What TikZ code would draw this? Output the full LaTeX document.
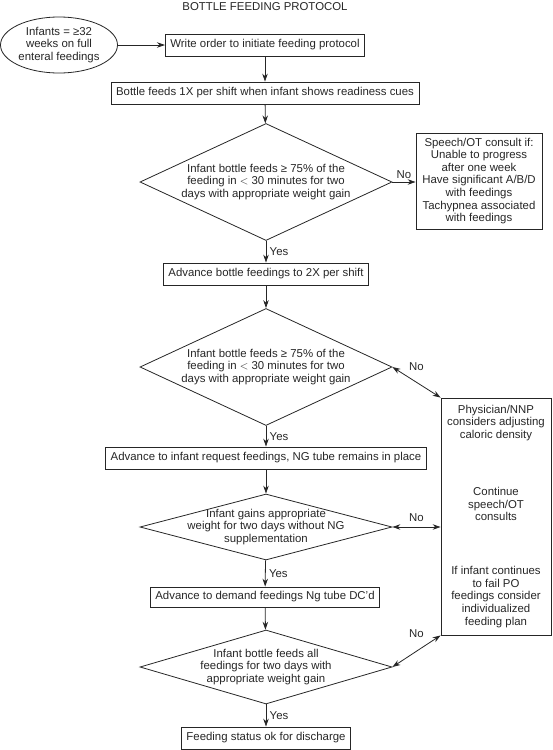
\documentclass[tikz,border=0pt]{standalone}
\usepackage{fontspec}
\setmainfont{Liberation Sans}
\usetikzlibrary{shapes.geometric,arrows.meta}

\begin{document}
\begin{tikzpicture}[x=1pt,y=-1pt,line width=.8pt,color=black!85,
  font=\fontsize{11.4}{12.6}\selectfont,
  box/.style={draw,minimum height=22pt,inner xsep=5pt,inner ysep=0pt},
  dia/.style={draw,diamond,inner sep=-15pt,aspect=3,align=center,minimum width=252pt},
  arr/.style={-{Stealth[length=8pt,width=5.5pt]}},
  darr/.style={{Stealth[length=8pt,width=5.5pt]}-{Stealth[length=8pt,width=5.5pt]}}]
\useasboundingbox (0,0) rectangle (552,750);
\node (T) at (265,7) {BOTTLE FEEDING PROTOCOL};
\node[draw,ellipse,minimum width=117pt,minimum height=56pt,inner sep=0pt,align=center] (S) at (59,45)
  {Infants = ≥32\\weeks on full\\enteral feedings};
\node[box] (B1) at (265,45) {Write order to initiate feeding protocol};
\node[box] (B2) at (265,93) {Bottle feeds 1X per shift when infant shows readiness cues};
\node[dia,minimum height=117pt] (D1) at (266,182)
  {Infant bottle feeds ≥ 75\% of the\\feeding in $<$ 30 minutes for two\\days with appropriate weight gain};
\node[draw,minimum width=126pt,minimum height=96pt,inner sep=0pt,align=center] (C) at (479,181)
  {Speech/OT consult if:\\Unable to progress\\after one week\\Have significant A/B/D\\with feedings\\Tachypnea associated\\with feedings};
\node[box] (B3) at (266,274) {Advance bottle feedings to 2X per shift};
\node[dia,minimum height=117pt] (D2) at (266,367)
  {Infant bottle feeds ≥ 75\% of the\\feeding in $<$ 30 minutes for two\\days with appropriate weight gain};
\node[box] (B4) at (266,458) {Advance to infant request feedings, NG tube remains in place};
\node[dia,minimum height=66pt] (D3) at (266,527)
  {Infant gains appropriate\\weight for two days without NG\\supplementation};
\node[box,minimum height=20pt] (B5) at (265,597) {Advance to demand feedings Ng tube DC'd};
\node[dia,minimum height=74pt] (D4) at (266,667)
  {Infant bottle feeds all\\feedings for two days with\\appropriate weight gain};
\node[box] (B6) at (266,738) {Feeding status ok for discharge};
% side box
\node[draw,minimum width=110pt,minimum height=237pt] (P) at (496,516.5) {};
\node[align=center] (P1) at (496,423) {Physician/NNP\\considers adjusting\\caloric density};
\node[align=center] (P2) at (496,504) {Continue\\speech/OT\\consults};
\node[align=center] (P3) at (496,597) {If infant continues\\to fail PO\\feedings consider\\individualized\\feeding plan};
% connectors
\draw[arr] (S) -- (B1);
\draw[arr] (B1) -- (B2);
\draw[arr] (B2) -- (D1);
\draw[arr] (D1.east) -- node[above] {No} (D1.east -| C.west);
\draw[arr] (D1) -- node[right] {Yes} (B3);
\draw[arr] (B3) -- (D2);
\draw[darr] (D2.east) -- node[above=8pt] {No} (P.north west);
\draw[arr] (D2) -- node[right] {Yes} (B4);
\draw[arr] (B4) -- (D3);
\draw[darr] (D3.east) -- node[above=2pt] {No} (D3.east -| P.west);
\draw[arr] (D3) -- node[right] {Yes} (B5);
\draw[arr] (B5) -- (D4);
\draw[darr] (D4.east) -- node[above=10pt] {No} (P.south west);
\draw[arr] (D4) -- node[right] {Yes} (B6);
\end{tikzpicture}
\end{document}
